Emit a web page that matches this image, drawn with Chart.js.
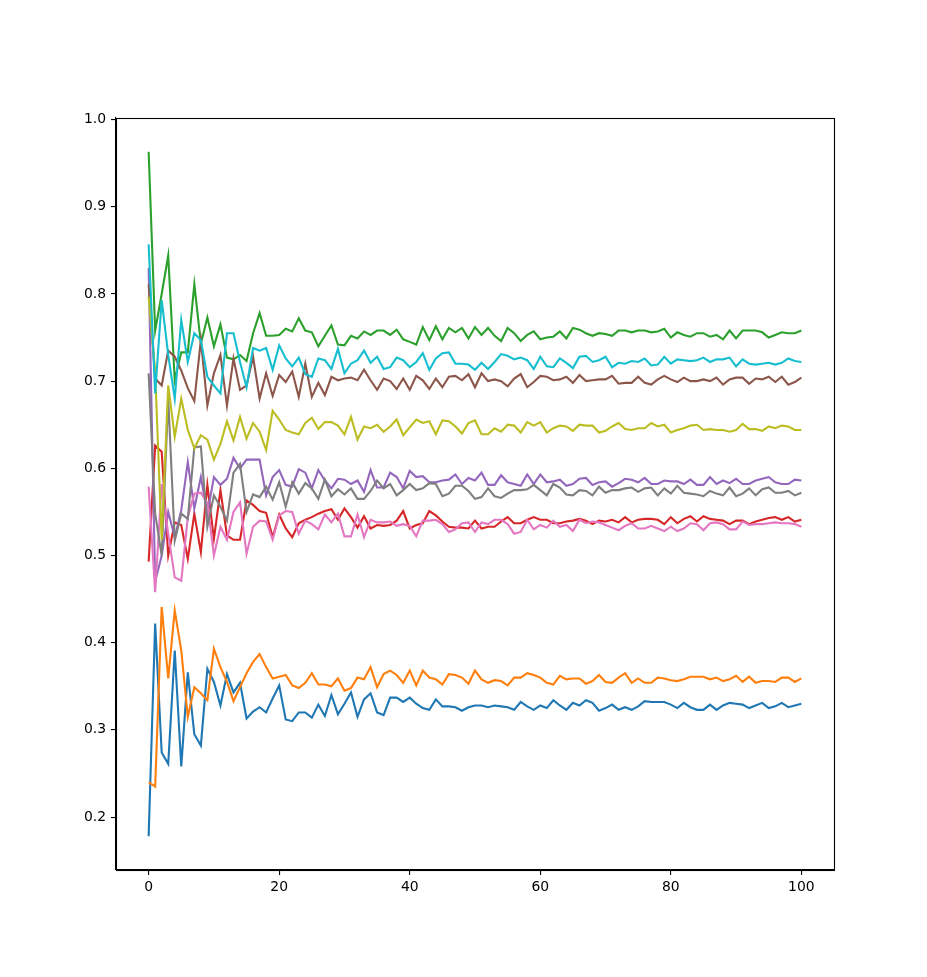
<!DOCTYPE html>
<html>
<head>
<meta charset="utf-8">
<script src="https://cdn.jsdelivr.net/npm/chart.js@4.4.1/dist/chart.umd.min.js"></script>
<style>
  html, body { margin: 0; padding: 0; background: #ffffff; }
  #wrap { width: 927px; height: 977px; }
</style>
</head>
<body>
<div id="wrap"><canvas id="c" width="927" height="977"></canvas></div>
<script>
const steps = Array.from({length: 101}, (_, i) => i);
const xTicks = [0, 20, 40, 60, 80, 100];
const yTicks = [0.2, 0.3, 0.4, 0.5, 0.6, 0.7, 0.8, 0.9, 1.0];

const series0 = [0.178,0.422,0.274,0.261,0.391,0.258,0.366,0.295,0.282,0.370,
0.355,0.328,0.364,0.343,0.354,0.313,0.321,0.326,0.320,0.336,
0.351,0.312,0.310,0.320,0.320,0.314,0.329,0.316,0.340,0.318,
0.330,0.343,0.315,0.335,0.342,0.320,0.317,0.337,0.337,0.332,
0.337,0.330,0.325,0.323,0.335,0.327,0.327,0.326,0.322,0.326,
0.328,0.328,0.326,0.328,0.327,0.326,0.323,0.332,0.327,0.323,
0.328,0.325,0.334,0.328,0.323,0.331,0.328,0.334,0.331,0.322,
0.325,0.329,0.323,0.326,0.323,0.327,0.333,0.332,0.332,0.332,
0.329,0.325,0.331,0.326,0.323,0.323,0.329,0.323,0.328,0.331,
0.330,0.329,0.325,0.328,0.331,0.325,0.327,0.331,0.326,0.328,0.330];

const series1 = [0.240,0.235,0.441,0.359,0.437,0.391,0.315,0.349,0.342,0.334,
0.393,0.372,0.355,0.333,0.349,0.365,0.378,0.387,0.372,0.359,
0.361,0.363,0.351,0.348,0.354,0.365,0.352,0.352,0.350,0.359,
0.345,0.348,0.360,0.358,0.372,0.349,0.364,0.368,0.363,0.354,
0.368,0.351,0.368,0.360,0.358,0.352,0.364,0.363,0.360,0.353,
0.368,0.358,0.354,0.357,0.356,0.351,0.360,0.360,0.365,0.363,
0.360,0.354,0.352,0.362,0.358,0.359,0.359,0.353,0.356,0.363,
0.355,0.354,0.360,0.365,0.354,0.359,0.354,0.354,0.360,0.359,
0.357,0.356,0.358,0.361,0.361,0.361,0.358,0.360,0.356,0.358,
0.362,0.355,0.361,0.354,0.356,0.356,0.355,0.360,0.360,0.355,0.359];

const series2 = [0.963,0.758,0.800,0.844,0.701,0.733,0.733,0.811,0.743,0.773,
0.740,0.765,0.727,0.725,0.730,0.723,0.755,0.778,0.752,0.752,
0.753,0.760,0.757,0.772,0.758,0.756,0.740,0.752,0.764,0.742,
0.741,0.752,0.749,0.757,0.753,0.758,0.758,0.753,0.759,0.748,
0.745,0.742,0.762,0.747,0.763,0.748,0.761,0.756,0.761,0.749,
0.762,0.753,0.761,0.752,0.746,0.761,0.755,0.746,0.753,0.757,
0.748,0.750,0.751,0.757,0.749,0.761,0.759,0.755,0.752,0.755,
0.754,0.752,0.758,0.758,0.756,0.758,0.758,0.756,0.757,0.760,
0.750,0.756,0.753,0.751,0.755,0.755,0.751,0.753,0.748,0.758,
0.749,0.758,0.758,0.758,0.756,0.750,0.753,0.756,0.755,0.755,0.758];

const series3 = [0.493,0.626,0.619,0.500,0.538,0.535,0.496,0.548,0.504,0.581,
0.519,0.575,0.523,0.518,0.518,0.563,0.558,0.551,0.549,0.521,
0.547,0.531,0.521,0.537,0.541,0.544,0.548,0.551,0.553,0.541,
0.554,0.544,0.532,0.545,0.531,0.535,0.534,0.535,0.540,0.551,
0.531,0.535,0.537,0.551,0.546,0.539,0.533,0.532,0.532,0.531,
0.540,0.531,0.533,0.533,0.539,0.544,0.537,0.537,0.541,0.544,
0.541,0.541,0.537,0.537,0.539,0.540,0.542,0.540,0.536,0.540,
0.539,0.541,0.538,0.544,0.538,0.541,0.542,0.542,0.541,0.536,
0.544,0.537,0.542,0.545,0.539,0.545,0.542,0.541,0.540,0.536,
0.540,0.540,0.536,0.539,0.541,0.543,0.544,0.541,0.544,0.539,0.541];

const series4 = [0.830,0.470,0.500,0.550,0.521,0.552,0.607,0.554,0.590,0.548,
0.590,0.581,0.588,0.612,0.600,0.610,0.610,0.610,0.569,0.590,
0.598,0.581,0.579,0.599,0.595,0.577,0.598,0.586,0.577,0.588,
0.587,0.582,0.586,0.573,0.598,0.578,0.578,0.595,0.590,0.577,
0.597,0.590,0.591,0.584,0.584,0.586,0.587,0.593,0.582,0.589,
0.586,0.595,0.581,0.581,0.592,0.584,0.582,0.580,0.593,0.582,
0.593,0.584,0.585,0.587,0.580,0.582,0.588,0.589,0.581,0.584,
0.585,0.579,0.583,0.588,0.587,0.584,0.589,0.582,0.582,0.586,
0.585,0.585,0.582,0.587,0.581,0.581,0.590,0.582,0.586,0.583,
0.588,0.582,0.582,0.586,0.588,0.590,0.584,0.582,0.582,0.587,0.586];

const series5 = [0.811,0.703,0.695,0.735,0.728,0.712,0.692,0.677,0.747,0.672,
0.709,0.730,0.672,0.726,0.690,0.695,0.728,0.680,0.709,0.683,
0.707,0.699,0.711,0.682,0.720,0.682,0.698,0.684,0.705,0.701,
0.703,0.704,0.701,0.713,0.701,0.690,0.703,0.700,0.691,0.703,
0.690,0.706,0.701,0.691,0.703,0.693,0.705,0.706,0.701,0.708,
0.693,0.709,0.700,0.702,0.700,0.694,0.703,0.708,0.693,0.699,
0.706,0.705,0.701,0.702,0.705,0.698,0.707,0.700,0.701,0.702,
0.702,0.706,0.697,0.698,0.698,0.705,0.698,0.696,0.702,0.706,
0.702,0.699,0.704,0.700,0.700,0.702,0.700,0.704,0.696,0.702,
0.704,0.704,0.697,0.703,0.702,0.705,0.699,0.705,0.696,0.699,0.704];

const series6 = [0.579,0.458,0.582,0.525,0.475,0.471,0.544,0.571,0.572,0.560,
0.500,0.533,0.518,0.550,0.561,0.502,0.533,0.540,0.539,0.518,
0.546,0.551,0.550,0.525,0.540,0.536,0.530,0.547,0.538,0.548,
0.522,0.522,0.547,0.521,0.541,0.538,0.538,0.539,0.534,0.536,
0.534,0.522,0.540,0.540,0.541,0.536,0.527,0.530,0.537,0.538,
0.527,0.538,0.536,0.541,0.541,0.536,0.525,0.527,0.541,0.530,
0.535,0.532,0.540,0.533,0.535,0.528,0.541,0.537,0.539,0.538,
0.535,0.532,0.529,0.534,0.537,0.531,0.531,0.534,0.531,0.528,
0.533,0.528,0.531,0.537,0.536,0.529,0.537,0.538,0.536,0.530,
0.530,0.539,0.535,0.536,0.536,0.537,0.538,0.537,0.537,0.536,0.533];

const series7 = [0.709,0.548,0.500,0.680,0.517,0.548,0.542,0.624,0.625,0.533,
0.569,0.556,0.540,0.595,0.605,0.550,0.570,0.567,0.579,0.564,
0.584,0.556,0.584,0.571,0.583,0.577,0.565,0.587,0.568,0.576,
0.570,0.577,0.565,0.565,0.574,0.586,0.577,0.582,0.569,0.575,
0.582,0.575,0.577,0.583,0.582,0.568,0.571,0.580,0.580,0.574,
0.565,0.567,0.577,0.568,0.566,0.571,0.575,0.575,0.576,0.581,
0.575,0.569,0.582,0.578,0.570,0.569,0.575,0.574,0.569,0.579,
0.572,0.575,0.575,0.577,0.578,0.573,0.577,0.578,0.569,0.577,
0.571,0.580,0.572,0.571,0.570,0.568,0.574,0.571,0.569,0.578,
0.568,0.571,0.577,0.569,0.576,0.578,0.572,0.572,0.574,0.569,0.572];

const series8 = [0.797,0.710,0.518,0.695,0.636,0.680,0.644,0.623,0.638,0.633,
0.610,0.628,0.654,0.632,0.659,0.634,0.652,0.642,0.621,0.666,
0.656,0.644,0.641,0.639,0.652,0.658,0.645,0.653,0.653,0.649,
0.639,0.659,0.633,0.648,0.646,0.650,0.642,0.648,0.656,0.638,
0.647,0.656,0.652,0.654,0.639,0.655,0.654,0.648,0.640,0.652,
0.655,0.639,0.639,0.646,0.642,0.650,0.649,0.641,0.653,0.649,
0.653,0.641,0.646,0.649,0.648,0.643,0.650,0.649,0.649,0.641,
0.643,0.648,0.652,0.645,0.644,0.646,0.646,0.652,0.648,0.650,
0.641,0.644,0.646,0.649,0.650,0.644,0.645,0.644,0.644,0.642,
0.644,0.651,0.645,0.645,0.643,0.648,0.646,0.649,0.648,0.644,0.644];

const series9 = [0.857,0.686,0.793,0.730,0.680,0.770,0.722,0.755,0.747,0.705,
0.695,0.686,0.755,0.755,0.722,0.693,0.738,0.735,0.738,0.713,
0.741,0.726,0.717,0.727,0.708,0.705,0.726,0.724,0.714,0.737,
0.709,0.720,0.724,0.735,0.721,0.728,0.714,0.716,0.727,0.724,
0.716,0.722,0.732,0.713,0.726,0.732,0.733,0.720,0.720,0.719,
0.713,0.721,0.714,0.722,0.731,0.729,0.725,0.727,0.724,0.714,
0.728,0.717,0.716,0.726,0.721,0.715,0.728,0.729,0.722,0.724,
0.728,0.716,0.721,0.720,0.723,0.722,0.726,0.718,0.719,0.728,
0.720,0.725,0.724,0.723,0.724,0.727,0.722,0.725,0.725,0.727,
0.717,0.725,0.720,0.719,0.720,0.721,0.719,0.721,0.726,0.723,0.722];

const allSeries = [series0, series1, series2, series3, series4, series5, series6, series7, series8, series9];
const colors = ['#1f77b4','#ff7f0e','#2ca02c','#d62728','#9467bd','#8c564b','#e377c2','#7f7f7f','#bcbd22','#17becf'];

const FONT = { family: '"DejaVu Sans", sans-serif', size: 13.9 };

const frame = {
  id: 'frame',
  afterDatasetsDraw(chart) {
    const a = chart.chartArea, ctx = chart.ctx;
    ctx.save();
    ctx.strokeStyle = '#000';
    ctx.lineWidth = 1.1;
    ctx.strokeRect(Math.round(a.left) + 0.5, Math.round(a.top) + 0.5,
                   Math.round(a.right - a.left), Math.round(a.bottom - a.top));
    ctx.restore();
  }
};

new Chart(document.getElementById('c'), {
  type: 'line',
  data: {
    datasets: allSeries.map((s, k) => ({
      data: steps.map((x, i) => ({ x: x, y: s[i] })),
      borderColor: colors[k],
      backgroundColor: colors[k],
      borderWidth: 2.1,
      pointRadius: 0,
      tension: 0,
      fill: false,
      order: 9 - k
    }))
  },
  options: {
    responsive: false,
    animation: false,
    devicePixelRatio: 1,
    events: [],
    layout: { padding: { left: 0, right: 93, top: 118, bottom: 0 } },
    plugins: { legend: { display: false }, tooltip: { enabled: false } },
    scales: {
      x: {
        type: 'linear',
        min: -5, max: 105,
        afterBuildTicks(scale) { scale.ticks = xTicks.map(v => ({ value: v })); },
        afterFit(scale) { scale.height = 107; },
        grid: { display: true, drawOnChartArea: false, drawTicks: true, tickLength: 5, color: '#000', lineWidth: 1.1 },
        border: { display: true, color: '#000', width: 1.1 },
        ticks: { color: '#000', font: FONT, padding: 4, maxRotation: 0, autoSkip: false,
                 callback: v => String(v) }
      },
      y: {
        type: 'linear',
        min: 0.1393, max: 1.0018,
        afterBuildTicks(scale) { scale.ticks = yTicks.map(v => ({ value: v })); },
        afterFit(scale) { scale.width = 116; },
        grid: { display: true, drawOnChartArea: false, drawTicks: true, tickLength: 5, color: '#000', lineWidth: 1.1 },
        border: { display: true, color: '#000', width: 1.1 },
        ticks: { color: '#000', font: FONT, padding: 5, autoSkip: false,
                 callback: v => Number(v).toFixed(1) }
      }
    }
  },
  plugins: [frame]
});
</script>
</body>
</html>
